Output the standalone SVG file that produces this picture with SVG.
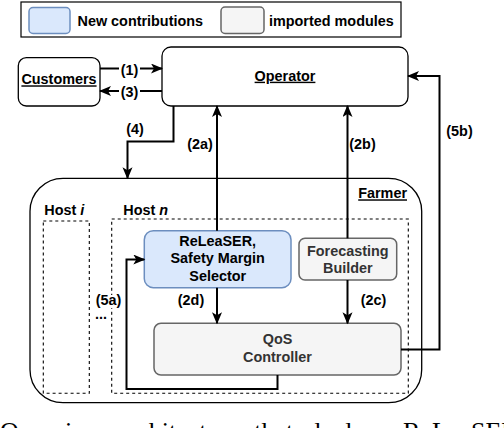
<svg xmlns="http://www.w3.org/2000/svg" width="504" height="428" viewBox="0 0 504 428">
<style>
text{font-family:"Liberation Sans",Arial,sans-serif;font-weight:bold;font-size:14.4px;fill:#000}
.c{text-anchor:middle}
.u{text-decoration:underline}
.g{fill:#333333}
.box{fill:#fff;stroke:#000;stroke-width:1.3}
.new{fill:#dae8fc;stroke:#6c8ebf;stroke-width:1.5}
.imp{fill:#f5f5f5;stroke:#666666;stroke-width:1.5}
.dot{fill:none;stroke:#000;stroke-width:1.1;stroke-dasharray:3,3}
.e{fill:none;stroke:#000;stroke-width:2;marker-end:url(#ah)}
.cap{font-family:"Liberation Serif","Times New Roman",serif;font-weight:normal;font-size:26px;word-spacing:8px}
</style>
<defs>
<marker id="ah" markerUnits="userSpaceOnUse" markerWidth="14" markerHeight="12" refX="11" refY="5" orient="auto">
<path d="M0,0 L12,5 L0,10 L3,5 z" fill="#000"/>
</marker>
</defs>

<g id="legend">
<rect x="21" y="2" width="380" height="35" fill="#fff" stroke="#000" stroke-width="1.2"/>
<rect x="29" y="7.5" width="41" height="26" rx="4" class="new"/>
<text x="77.5" y="25.7">New contributions</text>
<rect x="221" y="7" width="43" height="26.5" rx="4" class="imp"/>
<text x="269" y="25.7">imported modules</text>
</g>

<g id="farmer">
<rect x="30" y="178.3" width="391.7" height="224.4" rx="33" class="box"/>
<text x="407" y="198.3" text-anchor="end" class="u">Farmer</text>
</g>

<g id="host-i">
<rect x="43.3" y="221" width="46" height="172.3" class="dot"/>
<text x="44.3" y="215">Host <tspan font-style="italic">i</tspan></text>
</g>

<g id="host-n">
<rect x="111.7" y="219" width="296.6" height="174.3" class="dot"/>
<text x="123.3" y="215">Host <tspan font-style="italic">n</tspan></text>
</g>

<g id="ellipsis">
<text x="95" y="318.5">...</text>
</g>

<g id="customers">
<rect x="18.3" y="57.7" width="81.7" height="48.3" rx="8" class="box"/>
<text x="59" y="84.3" class="c u">Customers</text>
</g>

<g id="operator">
<rect x="162" y="47" width="246" height="59" rx="9" class="box"/>
<text x="285" y="80.7" class="c u">Operator</text>
</g>

<g id="releaser">
<rect x="144.3" y="230.7" width="146.7" height="57" rx="9" class="new"/>
<text x="217.7" y="246" class="c">ReLeaSER,</text>
<text x="217.7" y="263.3" class="c">Safety Margin</text>
<text x="217.7" y="280.7" class="c">Selector</text>
</g>

<g id="forecasting">
<rect x="299" y="238.3" width="97.7" height="41.7" rx="6" class="imp"/>
<text x="347.8" y="256" class="c g">Forecasting</text>
<text x="347.8" y="273.3" class="c g">Builder</text>
</g>

<g id="qos">
<rect x="154" y="323.3" width="247" height="51.7" rx="7" class="imp"/>
<text x="277.5" y="344.3" class="c g">QoS</text>
<text x="277.5" y="362.3" class="c g">Controller</text>
</g>

<g id="connectors">
<path d="M100,68.5 H162" class="e"/>
<path d="M162,91 H100" class="e"/>
<path d="M173.5,106 V141.5 H127.5 V178.3" class="e"/>
<path d="M217,230.7 V106" class="e"/>
<path d="M347.5,238.3 V106" class="e"/>
<path d="M401,349.5 H439.5 V76 H408" class="e"/>
<path d="M217,287.7 V323.3" class="e"/>
<path d="M347.5,280 V323.3" class="e"/>
<path d="M277.5,375 V389 H126.5 V259.5 H144.3" class="e"/>
<rect x="119" y="61" width="21" height="16" fill="#fff"/>
<text x="129.5" y="74.5" class="c">(1)</text>
<rect x="119" y="84" width="21" height="16" fill="#fff"/>
<text x="129.5" y="97" class="c">(3)</text>
<text x="135" y="134" class="c">(4)</text>
<text x="200" y="149" class="c">(2a)</text>
<text x="362.5" y="149" class="c">(2b)</text>
<text x="459.5" y="136" class="c">(5b)</text>
<rect x="95" y="295" width="27" height="13" fill="#fff"/>
<text x="108.5" y="305" class="c">(5a)</text>
<text x="191" y="305" class="c">(2d)</text>
<text x="373.5" y="305" class="c">(2c)</text>
</g>

<text x="0" y="440" class="cap">Overview architecture that deploys ReLeaSER</text>
</svg>
